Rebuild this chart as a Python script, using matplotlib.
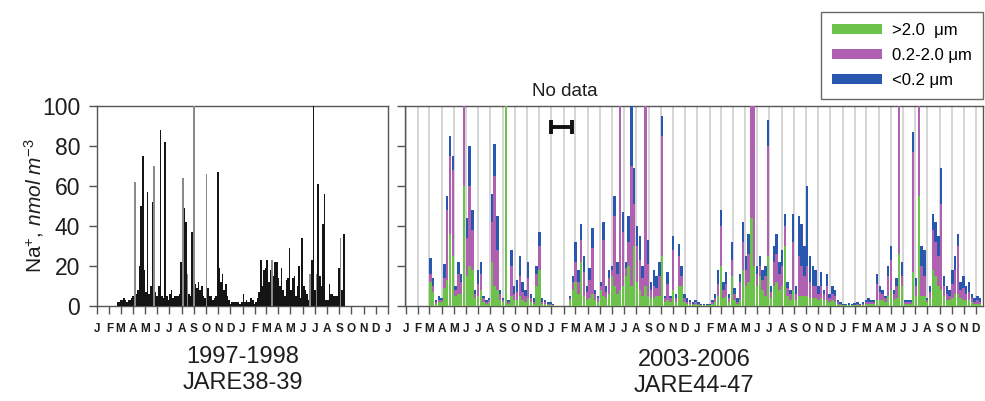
import datetime as dt
import matplotlib
matplotlib.use("Agg")
import matplotlib.pyplot as plt
from matplotlib.patches import Patch

plt.rcParams['font.family'] = ['Liberation Sans', 'DejaVu Sans']
plt.rcParams['mathtext.fontset'] = 'custom'
plt.rcParams['mathtext.rm'] = 'Liberation Sans'
plt.rcParams['mathtext.it'] = 'Liberation Sans:italic'

# ---------------- 1997-1998 (JARE38-39): total Na+, 4-day samples ----------------
start_9798 = dt.date(1997, 2, 19)
step_9798 = 4
na_9798 = [
    2, 2, 3, 3, 4, 3, 2, 3, 3, 4,
    5, 62, 6, 8, 20, 50, 75, 18, 7, 57,
    6, 10, 52, 70, 7, 5, 10, 88, 5, 4,
    82, 5, 3, 6, 8, 4, 5, 5, 5, 6,
    22, 64, 49, 42, 16, 6, 5, 37, 105, 11,
    9, 12, 8, 10, 5, 4, 66, 9, 5, 5,
    3, 4, 5, 67, 19, 12, 16, 8, 11, 5,
    3, 1, 2, 2, 2, 2, 2, 1, 2, 6,
    2, 3, 2, 2, 4, 3, 1, 2, 4, 7,
    23, 10, 18, 19, 23, 12, 18, 23, 15, 22,
    22, 14, 10, 19, 8, 5, 13, 14, 29, 8,
    14, 15, 5, 10, 20, 4, 34, 10, 8, 6,
    3, 16, 23, 105, 8, 16, 61, 15, 10, 41,
    56, 3, 3, 11, 6, 6, 5, 5, 5, 19,
    34, 8, 36,
]
light_bars_9798 = [11, 23, 41, 44, 48, 56, 97, 121, 125, 140]

# ---------------- 2003-2006 (JARE44-47): size-segregated Na+, weekly ----------------
start_a = dt.date(2003, 3, 1)
coarse_a = [12, 7, 1, 2, 2, 9, 13, 36, 25, 5, 6, 6, 60, 15, 20, 18, 4, 5, 8, 2,
            1, 2, 22, 10, 8, 3, 2, 105, 1, 5, 3, 3, 5, 3, 2, 4, 2, 1, 10, 18,
            1, 1, 0.5, 0.5, 0.3]
mid_a = [4, 3, 1, 1, 1, 5, 35, 39, 43, 3, 10, 6, 50, 19, 40, 20, 2, 6, 8, 2,
         1, 1, 20, 55, 20, 3, 1, 0, 1, 15, 3, 4, 10, 4, 3, 10, 2, 1, 6, 12,
         1, 1, 0.5, 0.5, 0.3]
fine_a = [8, 4, 1, 2, 1, 7, 7, 10, 7, 2, 6, 4, 3, 10, 20, 10, 2, 7, 6, 1,
          1, 1, 14, 16, 17, 2, 1, 0, 1, 8, 4, 6, 10, 5, 3, 8, 2, 2, 4, 7,
          2, 1, 1, 1, 0.6]

start_b = dt.date(2004, 2, 14)
coarse_b = [
    3, 8, 12, 6, 22, 5, 3, 4, 6, 3,
    2, 8, 5, 4, 6, 15, 10, 6, 8, 10,
    15, 20, 10, 30, 12, 8, 5, 10, 5, 4,
    4, 5, 5, 25, 2, 3, 2, 8, 2, 10,
    10, 2, 1, 1, 0.5, 1, 0.5, 0.3, 0.3, 0.3,
    0.3, 1, 2, 5, 20, 4, 5, 2, 15, 3,
    1, 3, 18, 10, 12, 44, 20, 10, 15, 8,
    5, 25, 4, 10, 12, 8, 10, 30, 5, 3,
    8, 3, 5, 5, 5, 5, 4, 4, 4, 3,
    4, 3, 3, 2, 3, 2, 1, 0.5, 0.3, 0.3,
    0.3, 0.3, 0.3, 0.5, 0.3, 0.5, 1, 1, 1, 1,
    3, 3, 3, 2, 5, 8, 3, 4, 26, 10,
    1, 1, 1, 17, 5, 55, 5, 5, 2, 4,
    18, 15, 10, 8, 5, 3, 3, 4, 6, 6,
    4, 3, 3, 3, 2, 1, 1, 1,
]
mid_b = [
    1, 4, 10, 6, 11, 12, 4, 9, 23, 3,
    2, 2, 28, 3, 8, 3, 35, 10, 92, 27,
    4, 12, 60, 21, 18, 15, 9, 92, 16, 4,
    6, 4, 10, 60, 2, 8, 2, 20, 2, 15,
    5, 2, 1, 1, 0.5, 1, 0.5, 0.3, 0.3, 0.3,
    0.3, 1, 2, 6, 20, 4, 6, 2, 8, 3,
    1, 9, 14, 8, 14, 62, 85, 6, 5, 5,
    10, 55, 3, 12, 14, 8, 10, 10, 4, 3,
    24, 3, 20, 15, 10, 15, 8, 6, 6, 3,
    6, 3, 7, 2, 3, 3, 1, 0.5, 0.3, 0.3,
    0.3, 0.3, 0.3, 0.5, 0.3, 0.5, 1, 1, 1, 1,
    8, 4, 3, 2, 10, 15, 3, 6, 80, 5,
    1, 1, 1, 60, 5, 50, 15, 10, 1, 3,
    20, 17, 15, 43, 5, 3, 2, 7, 12, 24,
    4, 6, 3, 4, 2, 1, 2, 1,
]
fine_b = [
    1, 3, 10, 6, 8, 8, 3, 6, 10, 2,
    1, 2, 9, 3, 4, 2, 10, 6, 5, 10,
    3, 13, 38, 18, 10, 12, 6, 3, 12, 4,
    8, 6, 7, 10, 1, 6, 1, 7, 2, 6,
    5, 2, 2, 1, 1, 1, 1, 0.6, 0.6, 0.6,
    0.6, 1, 2, 7, 8, 4, 6, 2, 9, 3,
    2, 4, 10, 7, 10, 0, 0, 4, 5, 5,
    5, 13, 3, 8, 10, 6, 8, 6, 3, 2,
    14, 4, 20, 21, 15, 40, 13, 10, 8, 4,
    7, 2, 6, 2, 4, 3, 1, 1, 0.6, 0.6,
    0.8, 0.6, 0.8, 1, 0.6, 1, 1, 2, 1, 1,
    5, 3, 2, 1, 5, 7, 2, 4, 0, 7,
    1, 1, 1, 10, 4, 0, 10, 13, 1, 3,
    8, 10, 10, 18, 5, 4, 3, 7, 7, 6,
    4, 6, 4, 5, 2, 2, 2, 2,
]

size_labels = ['>2.0  \u03bcm', '0.2-2.0 \u03bcm', '<0.2 \u03bcm']
size_colors = ['#6cc24a', '#b060b0', '#2857b0']
month_letters = list('JFMAMJJASOND')
y_ticks = [0, 20, 40, 60, 80, 100]

TEXT = '#1e1e1e'
AXIS = '#555555'


def sample_dates(start, n, step):
    return [start + dt.timedelta(days=step * i) for i in range(n)]


def month_axis(ax, first_year, last_year, last_month):
    ticks = [dt.date(y, m, 1) for y in range(first_year, last_year + 1)
             for m in range(1, 13) if (y, m) <= (last_year, last_month)]
    ax.set_xticks(ticks)
    ax.set_xticklabels([month_letters[t.month - 1] for t in ticks])


fig = plt.figure(figsize=(9.85, 4.01), dpi=100)
ax1 = fig.add_axes([97 / 985, 1 - 306 / 401, 291 / 985, 200 / 401])
ax2 = fig.add_axes([405 / 985, 1 - 306 / 401, 578 / 985, 200 / 401])

# left panel: total sodium
d1 = sample_dates(start_9798, len(na_9798), step_9798)
cols1 = ['#8a8a8a' if i in light_bars_9798 else '#151515' for i in range(len(na_9798))]
ax1.bar(d1, na_9798, width=step_9798, color=cols1, edgecolor='none', align='edge', zorder=3)
ax1.set_xlim(dt.date(1997, 1, 1), dt.date(1999, 1, 1))
month_axis(ax1, 1997, 1999, 1)

# right panel: stacked size fractions
for start, parts in ((start_a, (coarse_a, mid_a, fine_a)), (start_b, (coarse_b, mid_b, fine_b))):
    d = sample_dates(start, len(parts[0]), 7)
    bottom = [0.0] * len(d)
    for vals, col in zip(parts, size_colors):
        ax2.bar(d, vals, width=6.0, bottom=bottom, color=col, edgecolor='none', align='edge', zorder=3)
        bottom = [b + v for b, v in zip(bottom, vals)]
ax2.set_xlim(dt.date(2003, 1, 1) - dt.timedelta(days=2.5), dt.date(2006, 12, 19))
month_axis(ax2, 2003, 2006, 12)
ax2.xaxis.grid(True, color='#d2d2d2', linewidth=1.3, zorder=0)
ax2.set_axisbelow(True)

# gap marker between the two 2003/2004 records
gap_lo = sample_dates(start_a, len(coarse_a), 7)[-1]
gap_hi = start_b
gap_mid = gap_lo + (gap_hi - gap_lo) / 2
ax2.errorbar([gap_mid], [89.5],
             xerr=[[gap_mid - gap_lo + dt.timedelta(days=2)], [gap_hi - gap_mid + dt.timedelta(days=8)]],
             fmt='none', ecolor='#111111', elinewidth=2.8, capsize=5, capthick=2.8, zorder=5)

for ax in (ax1, ax2):
    ax.set_ylim(0, 100)
    ax.set_yticks(y_ticks)
    for s in ax.spines.values():
        s.set_color(AXIS)
        s.set_linewidth(1.0)
    ax.tick_params(axis='x', direction='out', length=6, width=1, color=AXIS,
                   labelsize=8.5, pad=6, labelcolor=TEXT)
    ax.tick_params(axis='y', direction='out', length=6, width=1, color=AXIS,
                   labelsize=16.5, pad=6, labelcolor=TEXT)
    for lab in ax.get_xticklabels():
        lab.set_fontweight('bold')
ax2.tick_params(axis='y', labelleft=False)

ax1.set_ylabel(r'Na$^{+}$, $\mathit{nmol\ m}^{-3}$', fontsize=15, color=TEXT)
ax1.yaxis.set_label_coords(-0.175, 0.5)

# period captions under each panel
captions = [(242.5, 357, '1997-1998'), (242.5, 383, 'JARE38-39'),
            (694, 360, '2003-2006'), (694, 386, 'JARE44-47')]
for cx, cy, txt in captions:
    fig.text(cx / 985, 1 - cy / 401, txt, ha='center', va='center', fontsize=17, color=TEXT)

fig.text(565 / 985, 1 - 91 / 401, 'No data', ha='center', va='center', fontsize=13.5, color=TEXT)

handles = [Patch(facecolor=c, edgecolor='none') for c in size_colors]
leg = fig.legend(handles, size_labels, loc='upper right', bbox_to_anchor=(983 / 985, 1 - 12 / 401),
                 fontsize=12, frameon=True, fancybox=False, handlelength=3.0, handleheight=0.5,
                 handletextpad=0.6, borderpad=0.65, labelspacing=0.6, borderaxespad=0)
leg.get_frame().set_edgecolor('#444444')
leg.get_frame().set_linewidth(1.0)

fig.savefig('out.png', dpi=100)
